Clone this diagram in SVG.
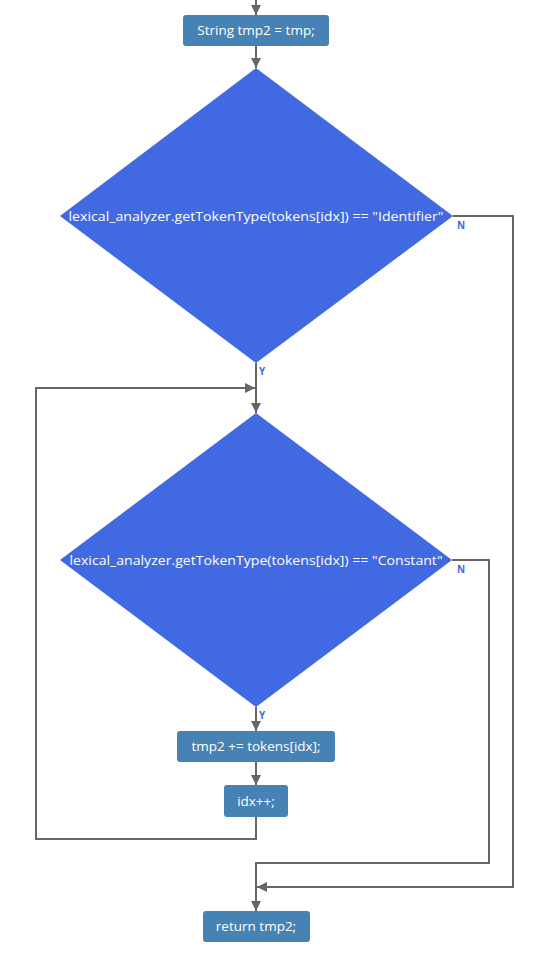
<svg xmlns="http://www.w3.org/2000/svg" width="560" height="960" viewBox="0 0 560 960">
  <style>
    .box { fill: #4682b4; }
    .dia { fill: #4169e1; }
    .lbl { fill: #ffffff; font-family: "Open Sans", "Noto Sans", sans-serif; font-size: 13.5px; text-anchor: middle; }
    .edge { fill: none; stroke: #666666; stroke-width: 2; }
    .yn { fill: #4169e1; font-family: "Open Sans", "Noto Sans", sans-serif; font-size: 10px; font-weight: bold; }
  </style>
  <defs>
    <marker id="arrow" viewBox="0 0 10 10" refX="10" refY="5" markerWidth="10" markerHeight="10" markerUnits="userSpaceOnUse" orient="auto">
      <path d="M0,0 L10,5 L0,10 z" fill="#666666"/>
    </marker>
  </defs>

  <rect width="560" height="960" fill="#ffffff"/>

  <g id="connectors">
    <path class="edge" d="M256,0 V15" marker-end="url(#arrow)"/>
    <path class="edge" d="M256,46 V68" marker-end="url(#arrow)"/>
    <!-- identifier: yes -->
    <path class="edge" d="M256,363 V413" marker-end="url(#arrow)"/>
    <!-- identifier: no -->
    <path class="edge" d="M453,216 H513 V887 H257" marker-end="url(#arrow)"/>
    <!-- constant: yes -->
    <path class="edge" d="M256,707 V731" marker-end="url(#arrow)"/>
    <path class="edge" d="M256,762 V785" marker-end="url(#arrow)"/>
    <!-- loop back -->
    <path class="edge" d="M256,817 V839 H36 V388 H255" marker-end="url(#arrow)"/>
    <!-- constant: no -->
    <path class="edge" d="M452,560 H489 V863 H256 V911" marker-end="url(#arrow)"/>
    <text class="yn" x="457" y="229">N</text>
    <text class="yn" x="259" y="375">Y</text>
    <text class="yn" x="457" y="573">N</text>
    <text class="yn" x="259" y="719">Y</text>
  </g>

  <g id="n1">
    <rect class="box" x="183" y="15" width="146" height="31" rx="3"/>
    <text class="lbl" x="256" y="35">String tmp2 = tmp;</text>
  </g>

  <g id="n2">
    <polygon class="dia" points="256,68 453,216 256,363 60,216"/>
    <text class="lbl" x="256" y="221" textLength="375" lengthAdjust="spacingAndGlyphs">lexical_analyzer.getTokenType(tokens[idx]) == "Identifier"</text>
  </g>

  <g id="n3">
    <polygon class="dia" points="256,413 452,560 256,707 60,560"/>
    <text class="lbl" x="256" y="565" textLength="373" lengthAdjust="spacingAndGlyphs">lexical_analyzer.getTokenType(tokens[idx]) == "Constant"</text>
  </g>

  <g id="n4">
    <rect class="box" x="177" y="731" width="158" height="31" rx="3"/>
    <text class="lbl" x="256" y="751">tmp2 += tokens[idx];</text>
  </g>

  <g id="n5">
    <rect class="box" x="224" y="785" width="64" height="32" rx="3"/>
    <text class="lbl" x="256" y="806">idx++;</text>
  </g>

  <g id="n6">
    <rect class="box" x="203" y="911" width="107" height="31" rx="3"/>
    <text class="lbl" x="256" y="931">return tmp2;</text>
  </g>
</svg>
